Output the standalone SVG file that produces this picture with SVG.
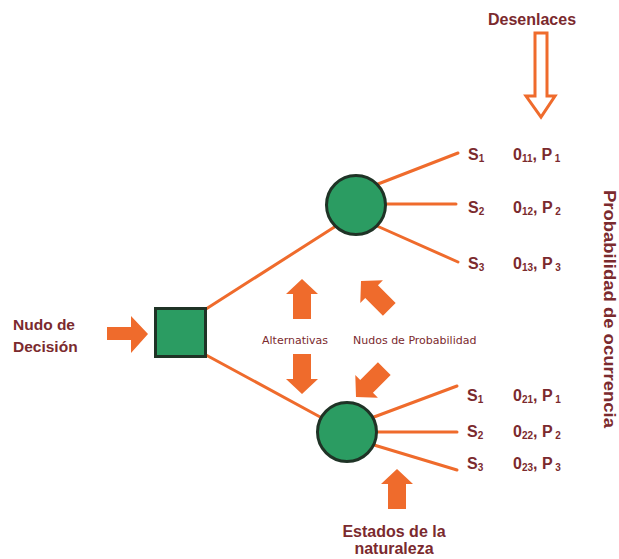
<svg xmlns="http://www.w3.org/2000/svg" width="619" height="559" viewBox="0 0 619 559">
<style>
.bg{fill:#ffffff}
.edge{stroke:#ef6b2c;stroke-width:3;fill:none;stroke-linecap:round}
.node{fill:#2b9c62;stroke:#1f3326;stroke-width:3}
.arrow{fill:#ef6b2c}
.lbl{font-family:"Liberation Sans",Arial,sans-serif;font-weight:bold;fill:#7b2a2e}
.sm{font-family:"DejaVu Sans","Liberation Sans",sans-serif;font-size:11px;fill:#7b2a2e}
.st{font-size:16px}
.sub{font-size:10px}
</style>
<defs>
<polygon id="upArrow" points="0,0 16,15 9,15 9,40 -9,40 -9,15 -16,15"/>
</defs>
<rect class="bg" x="0" y="0" width="619" height="559"/>
<g id="connectors">
<line class="edge" x1="206" y1="309" x2="336" y2="226"/>
<line class="edge" x1="206" y1="355" x2="322" y2="418"/>
<line class="edge" x1="378" y1="184" x2="458" y2="153"/>
<line class="edge" x1="386" y1="204" x2="456" y2="204"/>
<line class="edge" x1="377" y1="226" x2="458" y2="262"/>
<line class="edge" x1="374" y1="417" x2="457" y2="386"/>
<line class="edge" x1="377" y1="432" x2="457" y2="432"/>
<line class="edge" x1="374" y1="445" x2="457" y2="470"/>
</g>
<g id="decision">
<rect class="node" x="155.5" y="308.5" width="50" height="48"/>
</g>
<g id="chance1">
<circle class="node" cx="356" cy="205" r="29.5"/>
</g>
<g id="chance2">
<circle class="node" cx="347" cy="432" r="29.5"/>
</g>
<g id="arrows">
<polygon class="arrow" points="148,334 131,316 131,327 107,327 107,340 131,340 131,353"/>
<use href="#upArrow" class="arrow" transform="translate(302,279)"/>
<use href="#upArrow" class="arrow" transform="translate(302,394) rotate(180)"/>
<use href="#upArrow" class="arrow" transform="translate(361,281) rotate(-45)"/>
<use href="#upArrow" class="arrow" transform="translate(356,397) rotate(-135)"/>
<use href="#upArrow" class="arrow" transform="translate(397,469)"/>
<path d="M535,33 H547 V96 H555 L541,117 L526,96 H535 Z" fill="#ffffff" stroke="#ef6b2c" stroke-width="3" stroke-linejoin="miter"/>
</g>
<g id="labels">
<text class="lbl" x="532" y="25" font-size="16" text-anchor="middle">Desenlaces</text>
<text class="lbl" x="13" y="330" font-size="15.5">Nudo de</text>
<text class="lbl" x="13" y="352" font-size="15.5">Decisión</text>
<text class="sm" x="262" y="344">Alternativas</text>
<text class="sm" x="353" y="344">Nudos de Probabilidad</text>
<text class="lbl" x="394" y="537" font-size="16" text-anchor="middle">Estados de la</text>
<text class="lbl" x="394" y="554" font-size="16" text-anchor="middle">naturaleza</text>
<text class="lbl" font-size="17" text-anchor="middle" textLength="238" lengthAdjust="spacingAndGlyphs" transform="translate(604,309) rotate(90)" x="0" y="0">Probabilidad de ocurrencia</text>
</g>
<g id="outcomes1">
<text class="lbl st" x="468" y="160">S<tspan class="sub" dy="2">1</tspan></text>
<text class="lbl st" x="513" y="160">0<tspan class="sub" dy="2">11</tspan><tspan dy="-2">, P</tspan><tspan class="sub" dy="2"> 1</tspan></text>
<text class="lbl st" x="468" y="213">S<tspan class="sub" dy="2">2</tspan></text>
<text class="lbl st" x="513" y="213">0<tspan class="sub" dy="2">12</tspan><tspan dy="-2">, P</tspan><tspan class="sub" dy="2"> 2</tspan></text>
<text class="lbl st" x="468" y="269">S<tspan class="sub" dy="2">3</tspan></text>
<text class="lbl st" x="513" y="269">0<tspan class="sub" dy="2">13</tspan><tspan dy="-2">, P</tspan><tspan class="sub" dy="2"> 3</tspan></text>
</g>
<g id="outcomes2">
<text class="lbl st" x="467" y="401">S<tspan class="sub" dy="2">1</tspan></text>
<text class="lbl st" x="513" y="401">0<tspan class="sub" dy="2">21</tspan><tspan dy="-2">, P</tspan><tspan class="sub" dy="2"> 1</tspan></text>
<text class="lbl st" x="467" y="437">S<tspan class="sub" dy="2">2</tspan></text>
<text class="lbl st" x="513" y="437">0<tspan class="sub" dy="2">22</tspan><tspan dy="-2">, P</tspan><tspan class="sub" dy="2"> 2</tspan></text>
<text class="lbl st" x="467" y="469">S<tspan class="sub" dy="2">3</tspan></text>
<text class="lbl st" x="513" y="469">0<tspan class="sub" dy="2">23</tspan><tspan dy="-2">, P</tspan><tspan class="sub" dy="2"> 3</tspan></text>
</g>
</svg>
